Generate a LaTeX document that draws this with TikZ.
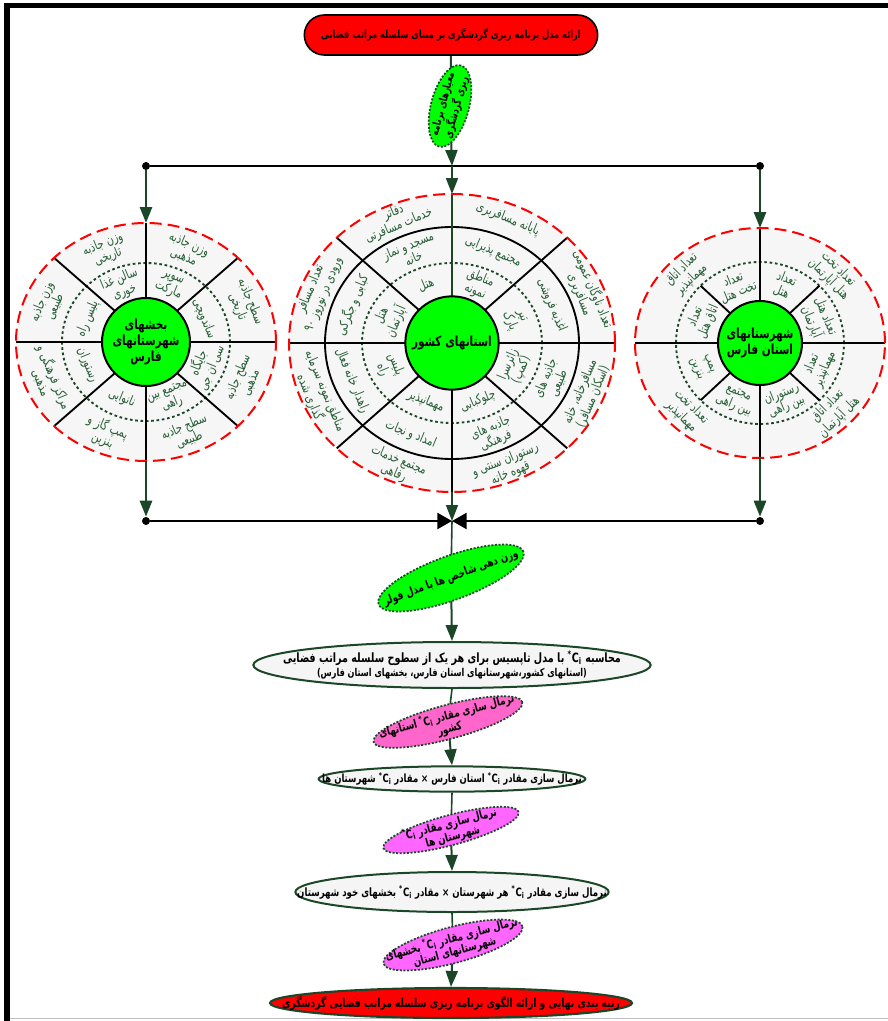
\documentclass[tikz,border=0pt]{standalone}
\usepackage{fontspec}
\usetikzlibrary{arrows.meta,shapes.geometric,calc,backgrounds}
\newfontfamily\arabicfont[Script=Arabic,FakeStretch=0.75]{DejaVu Sans}
\TeXXeTstate=1
\newcommand\fa[1]{{\arabicfont\beginR #1\endR}}
\newcommand\Ci{\beginL\textsuperscript{*}\textbf{C}\textsubscript{i}\endL}
\definecolor{dkgreen}{RGB}{28,70,40}
\definecolor{wtxt}{RGB}{40,95,55}
\definecolor{wheelgray}{RGB}{246,246,246}
\definecolor{ellgray}{RGB}{245,245,245}
\definecolor{pinkA}{RGB}{255,102,204}
\definecolor{pinkB}{RGB}{255,102,255}
\definecolor{lime}{RGB}{0,255,0}
\tikzset{
 conn/.style={draw=dkgreen, line width=1.5pt, -{Triangle[length=12pt,width=9pt]}},
 plainc/.style={draw=dkgreen, line width=1.2pt},
 hline/.style={draw=black, line width=2pt},
 bline/.style={draw=black, line width=1.8pt, -{Triangle[length=11pt,width=12pt]}},
 dot/.style={circle, fill=black, minimum size=6pt, inner sep=0pt},
 titlebox/.style={rectangle, rounded corners=15pt, fill=red, draw=black, line width=1.2pt, minimum width=220pt, minimum height=30pt, inner sep=0pt},
 greenell/.style={ellipse, fill=lime, draw=dkgreen, line width=1.3pt, dash pattern=on 1.5pt off 1.2pt, inner sep=0pt},
 whiteell/.style={ellipse, fill=ellgray, draw=dkgreen, line width=1.5pt, inner sep=0pt},
 pinkell/.style={ellipse, draw=dkgreen, line width=1.3pt, dash pattern=on 1.5pt off 1.2pt, inner sep=0pt},
 redell/.style={ellipse, fill=red, draw=dkgreen, line width=1.6pt, inner sep=0pt},
 ftxt/.style={font=\arabicfont\bfseries\fontsize{9}{10}\selectfont, align=center, inner sep=0pt},
 pinktxt/.style={ftxt, font=\arabicfont\bfseries\fontsize{8.8}{9.5}\selectfont},
 hub/.style={circle, fill=lime, draw=black, line width=1.5pt, inner sep=0pt, align=center, font=\arabicfont\bfseries\fontsize{10.5}{12}\selectfont},
 spoke/.style={draw=black, line width=1.4pt},
 ring/.style={draw=black, line width=1.4pt},
 ringdot/.style={draw=dkgreen, line width=1.4pt, dash pattern=on 2pt off 2pt},
 reddash/.style={draw=red, line width=1.5pt, dash pattern=on 9pt off 4.5pt},
 wtext/.style={text=wtxt, font=\arabicfont\fontsize{10}{10.5}\selectfont, align=center, inner sep=0pt},
}
\newcommand\wt[5]{%
 \pgfmathsetmacro\wrot{ifthenelse(#2<180,#2-90,#2+90)}%
 \node[wtext,rotate=\wrot] (#1) at (#2:#3 and #4) {#5};}
\begin{document}
\begin{tikzpicture}[x=0.75pt,y=-0.75pt]
\useasboundingbox (0,0) rectangle (888,1021);
% frame
\fill[black] (4,3) rectangle (888,8);
\fill[black] (4,3) rectangle (10,1021);
\draw[black!25, line width=0.8pt] (10,1018.5) -- (888,1018.5);

% title
\node[titlebox] (title) at (451,35) {};
\node[ftxt, font=\arabicfont\bfseries\fontsize{8.3}{9}\selectfont] (titleT) at (title.center) {\fa{ارائه مدل برنامه ریزی گردشگری بر مبنای سلسله مراتب فضایی}};

% criteria ellipse
\node[greenell, minimum width=63pt, minimum height=28.5pt, rotate=75] (crit) at (450,106) {};
\node[ftxt, rotate=75, font=\arabicfont\bfseries\fontsize{8.3}{8.8}\selectfont] (critT) at (crit.center) {\fa{معیارهای برنامه}\\\fa{ریزی گردشگری}};

% junctions
\node[dot] (dTL) at (146,166) {};
\node[dot] (dTR) at (760,166) {};
\coordinate (jTop) at (452,166);
\coordinate (wLtop) at (146,223);
\coordinate (wMtop) at (452,194);
\coordinate (wRtop) at (760,228);
\coordinate (wLbot) at (146,461);
\coordinate (wMbot) at (452,492);
\coordinate (wRbot) at (760,458);
\node[dot] (dBL) at (146,521) {};
\node[dot] (dBR) at (760,521) {};
\coordinate (jBot) at (452,521);

% ---------- left wheel
\begin{scope}[shift={(146,342)}, y=0.75pt]
 \fill[wheelgray] (0,0) ellipse [x radius=130, y radius=119];
 \draw[ringdot] (0,0) ellipse [x radius=84, y radius=79];
 \foreach \a in {0,45,...,315} \draw[spoke] (\a:44) -- (\a:130 and 119);
 \draw[reddash] (0,0) ellipse [x radius=130, y radius=119];
 \node[hub, minimum size=66pt] (hubL) at (0,0) {\fa{بخشهای}\\\fa{شهرستانهای}\\\fa{فارس}};
 \wt{Li1}{67.5}{63}{61}{\fa{سوپر}\\\fa{مارکت}}
 \wt{Li2}{112.5}{63}{61}{\fa{سالن غذا}\\\fa{خوری}}
 \wt{Li3}{157.5}{63}{61}{\fa{پلیس راه}}
 \wt{Li4}{202.5}{63}{61}{\fa{رستوران}}
 \wt{Li5}{247.5}{63}{61}{\fa{نانوایی}}
 \wt{Li6}{292.5}{63}{61}{\fa{مجتمع بین}\\\fa{راهی}}
 \wt{Li7}{337.5}{63}{61}{\fa{جایگاه}\\\fa{سی ان جی}}
 \wt{Li8}{22.5}{63}{61}{\fa{ساندویچی}}
 \wt{Lo1}{67.5}{106}{99}{\fa{وزن جاذبه}\\\fa{مذهبی}}
 \wt{Lo2}{112.5}{106}{99}{\fa{وزن جاذبه}\\\fa{تاریخی}}
 \wt{Lo3}{157.5}{106}{99}{\fa{وزن جاذبه}\\\fa{طبیعی}}
 \wt{Lo4}{202.5}{106}{99}{\fa{مراکز فرهنگی و}\\\fa{مذهبی}}
 \wt{Lo5}{247.5}{106}{99}{\fa{پمپ گاز و}\\\fa{بنزین}}
 \wt{Lo6}{292.5}{106}{99}{\fa{سطح جاذبه}\\\fa{طبیعی}}
 \wt{Lo7}{337.5}{106}{99}{\fa{سطح جاذبه}\\\fa{مذهبی}}
 \wt{Lo8}{22.5}{106}{99}{\fa{سطح جاذبه}\\\fa{تاریخی}}
\end{scope}

% ---------- middle wheel
\begin{scope}[shift={(452,343)}, y=0.75pt]
 \fill[wheelgray] (0,0) ellipse [x radius=163, y radius=149];
 \draw[ringdot] (0,0) ellipse [x radius=90, y radius=80];
 \draw[ring] (0,0) ellipse [x radius=127, y radius=116];
 \foreach \a in {0,45,135,180,225,270,315} \draw[spoke] (\a:46) -- (\a:163 and 149);
 \draw[spoke, draw=dkgreen] (90:46) -- (90:163 and 149);
 \draw[reddash] (0,0) ellipse [x radius=163, y radius=149];
 \node[hub, minimum size=70pt] (hubM) at (0,0) {\fa{استانهای کشور}};
 \wt{Mi1}{67.5}{68}{63}{\fa{مناطق}\\\fa{نمونه}}
 \wt{Mi2}{112.5}{68}{63}{\fa{هتل}}
 \wt{Mi3}{157.5}{68}{63}{\fa{هتل}\\\fa{آپارتمان}}
 \wt{Mi4}{202.5}{68}{63}{\fa{پلیس}\\\fa{راه}}
 \wt{Mi5}{247.5}{68}{63}{\fa{مهمانپذیر}}
 \wt{Mi6}{292.5}{68}{63}{\fa{چلوکبابی}}
 \wt{Mi7}{337.5}{68}{63}{\fa{زائرسرا}\\\fa{(کمپ)}}
 \wt{Mi8}{22.5}{68}{63}{\fa{تیر}\\\fa{پارک}}
 \wt{Mm1}{67.5}{108}{99}{\fa{مجتمع پذیرایی}}
 \wt{Mm2}{112.5}{108}{99}{\fa{مسجد و نماز}\\\fa{خانه}}
 \wt{Mm3}{157.5}{108}{99}{\fa{کبابی و جگرکی}}
 \wt{Mm4}{202.5}{108}{99}{\fa{راهدار خانه فعال}}
 \wt{Mm5}{247.5}{108}{99}{\fa{امداد و نجات}}
 \wt{Mm6}{292.5}{108}{99}{\fa{جاذبه های}\\\fa{فرهنگی}}
 \wt{Mm7}{337.5}{108}{99}{\fa{جاذبه های}\\\fa{طبیعی}}
 \wt{Mm8}{22.5}{108}{99}{\fa{اغذیه فروشی}}
 \wt{Mo1}{67.5}{146}{134}{\fa{پایانه مسافربری}}
 \wt{Mo2}{112.5}{146}{134}{\fa{دفاتر}\\\fa{خدمات مسافرتی}}
 \wt{Mo3}{157.5}{146}{134}{\fa{تعداد مسافر}\\\fa{ورودی در نوروز ۹۰}}
 \wt{Mo4}{202.5}{146}{134}{\fa{مناطق نمونه سرمایه}\\\fa{گذاری شده}}
 \wt{Mo5}{247.5}{146}{134}{\fa{مجتمع خدمات}\\\fa{رفاهی}}
 \wt{Mo6}{292.5}{146}{134}{\fa{رستوران سنتی و}\\\fa{قهوه خانه}}
 \wt{Mo7}{337.5}{146}{134}{\fa{مسافرخانه، خانه}\\\fa{(اسکان مسافر)}}
 \wt{Mo8}{22.5}{146}{134}{\fa{تعداد ناوگان عمومی}\\\fa{مسافربری}}
\end{scope}

% ---------- right wheel
\begin{scope}[shift={(760,343)}, y=0.75pt]
 \fill[wheelgray] (0,0) ellipse [x radius=125, y radius=115];
 \draw[ringdot] (0,0) ellipse [x radius=84, y radius=81];
 \foreach \a in {0,90,180,270} \draw[spoke] (\a:42) -- (\a:125 and 115);
 \foreach \a in {45,135,225,315} \draw[spoke] (\a:42) -- (\a:84 and 81);
 \draw[reddash] (0,0) ellipse [x radius=125, y radius=115];
 \node[hub, minimum size=63pt] (hubR) at (0,0) {\fa{شهرستانهای}\\\fa{استان فارس}};
 \wt{Ri1}{67.5}{63}{62}{\fa{تعداد}\\\fa{هتل}}
 \wt{Ri2}{112.5}{63}{62}{\fa{تعداد}\\\fa{تخت هتل}}
 \wt{Ri3}{157.5}{63}{62}{\fa{تعداد}\\\fa{اتاق هتل}}
 \wt{Ri4}{202.5}{63}{62}{\fa{پمپ}\\\fa{بنزین}}
 \wt{Ri5}{247.5}{63}{62}{\fa{مجتمع}\\\fa{بین راهی}}
 \wt{Ri6}{292.5}{63}{62}{\fa{رستوران}\\\fa{بین راهی}}
 \wt{Ri7}{337.5}{63}{62}{\fa{تعداد}\\\fa{مهمانپذیر}}
 \wt{Ri8}{22.5}{63}{62}{\fa{تعداد هتل}\\\fa{آپارتمان}}
 \wt{Ro1}{45}{104}{97}{\fa{تعداد تخت}\\\fa{هتل آپارتمان}}
 \wt{Ro2}{135}{104}{97}{\fa{تعداد اتاق}\\\fa{مهمانپذیر}}
 \wt{Ro3}{225}{104}{97}{\fa{تعداد تخت}\\\fa{مهمانپذیر}}
 \wt{Ro4}{315}{104}{97}{\fa{تعداد اتاق}\\\fa{هتل آپارتمان}}
\end{scope}

% ---------- lower flow
\node[greenell, minimum width=115.5pt, minimum height=33pt, rotate=20] (fuller) at (451,578) {};
\node[ftxt, rotate=20, font=\arabicfont\bfseries\fontsize{8.9}{10}\selectfont] (fullerT) at (fuller.center) {\fa{وزن دهی شاخص ها با مدل فولر}};

\node[whiteell, minimum width=298pt, minimum height=34.5pt] (calc) at (452,665) {};
\node[ftxt, font=\arabicfont\bfseries\fontsize{9.6}{11}\selectfont] (calcT) at (calc.center) {\fa{محاسبه \Ci{} با مدل تاپسیس برای هر یک از سطوح سلسله مراتب فضایی}\\[-1pt]{\fontsize{8.1}{9}\selectfont\fa{(استانهای کشور،شهرستانهای استان فارس، بخشهای استان فارس)}}};

\node[pinkell, fill=pinkA, minimum width=115.5pt, minimum height=25.5pt, rotate=15] (pink1) at (448,722) {};
\node[pinktxt, rotate=15] (pink1T) at (pink1.center) {\fa{نرمال سازی مقادر \Ci{} استانهای}\\\fa{کشور}};

\node[whiteell, minimum width=200pt, minimum height=19pt] (norm1) at (452,779) {};
\node[ftxt, font=\arabicfont\bfseries\fontsize{8.5}{9}\selectfont] (norm1T) at (norm1.center) {\fa{نرمال سازی مقادر \Ci{} استان فارس × مقادر \Ci{} شهرستان ها}};

\node[pinkell, fill=pinkB, minimum width=105pt, minimum height=22.5pt, rotate=15] (pink2) at (451,830) {};
\node[pinktxt, rotate=15] (pink2T) at (pink2.center) {\fa{نرمال سازی مقادر \Ci}\\\fa{شهرستان ها}};

\node[whiteell, minimum width=235pt, minimum height=30pt] (norm2) at (452,892) {};
\node[ftxt, font=\arabicfont\bfseries\fontsize{8.6}{9}\selectfont] (norm2T) at (norm2.center) {\fa{نرمال سازی مقادر \Ci{} هر شهرستان × مقادر \Ci{} بخشهای خود شهرستان}};

\node[pinkell, fill=pinkB, minimum width=108pt, minimum height=27pt, rotate=15] (pink3) at (453,945) {};
\node[pinktxt, rotate=15] (pink3T) at (pink3.center) {\fa{نرمال سازی مقادر \Ci{} بخشهای}\\\fa{شهرستانهای استان}};

\node[redell, minimum width=271.5pt, minimum height=22.5pt] (final) at (451,1003) {};
\node[ftxt, font=\arabicfont\bfseries\fontsize{9.2}{10}\selectfont] (finalT) at (final.center) {\fa{رتبه بندی نهایی و ارائه الگوی برنامه ریزی سلسله مراتب فضایی گردشگری}};

% ---------- connectors
\begin{scope}[on background layer]
 \draw[conn] (title.south) -- (crit.center) -- (jTop);
 \draw[plainc] (calc.south) -- (pink1.center);
 \draw[conn] (pink1.center) -- (norm1.north);
 \draw[plainc] (norm1.south) -- (pink2.center);
 \draw[conn] (pink2.center) -- (norm2.north);
 \draw[plainc] (norm2.south) -- (pink3.center);
 \draw[conn] (pink3.center) -- (final.north);
 \draw[plainc] (jBot) -- (fuller.center);
 \draw[conn] (fuller.center) -- (calc.north);
\end{scope}
\draw[hline] (dTL) -- (dTR);
\draw[conn] (jTop) -- (wMtop);
\draw[conn, line width=2pt] (dTL) -- (wLtop);
\draw[conn, line width=2pt] (dTR) -- (wRtop);
\draw[conn, line width=2pt] (wLbot) -- (dBL);
\draw[conn, line width=2pt] (wRbot) -- (dBR);
\draw[conn, line width=1.2pt] (wMbot) -- (jBot);
\draw[bline] (dBL) -- (jBot);
\draw[bline] (dBR) -- (jBot);
\end{tikzpicture}
\end{document}
